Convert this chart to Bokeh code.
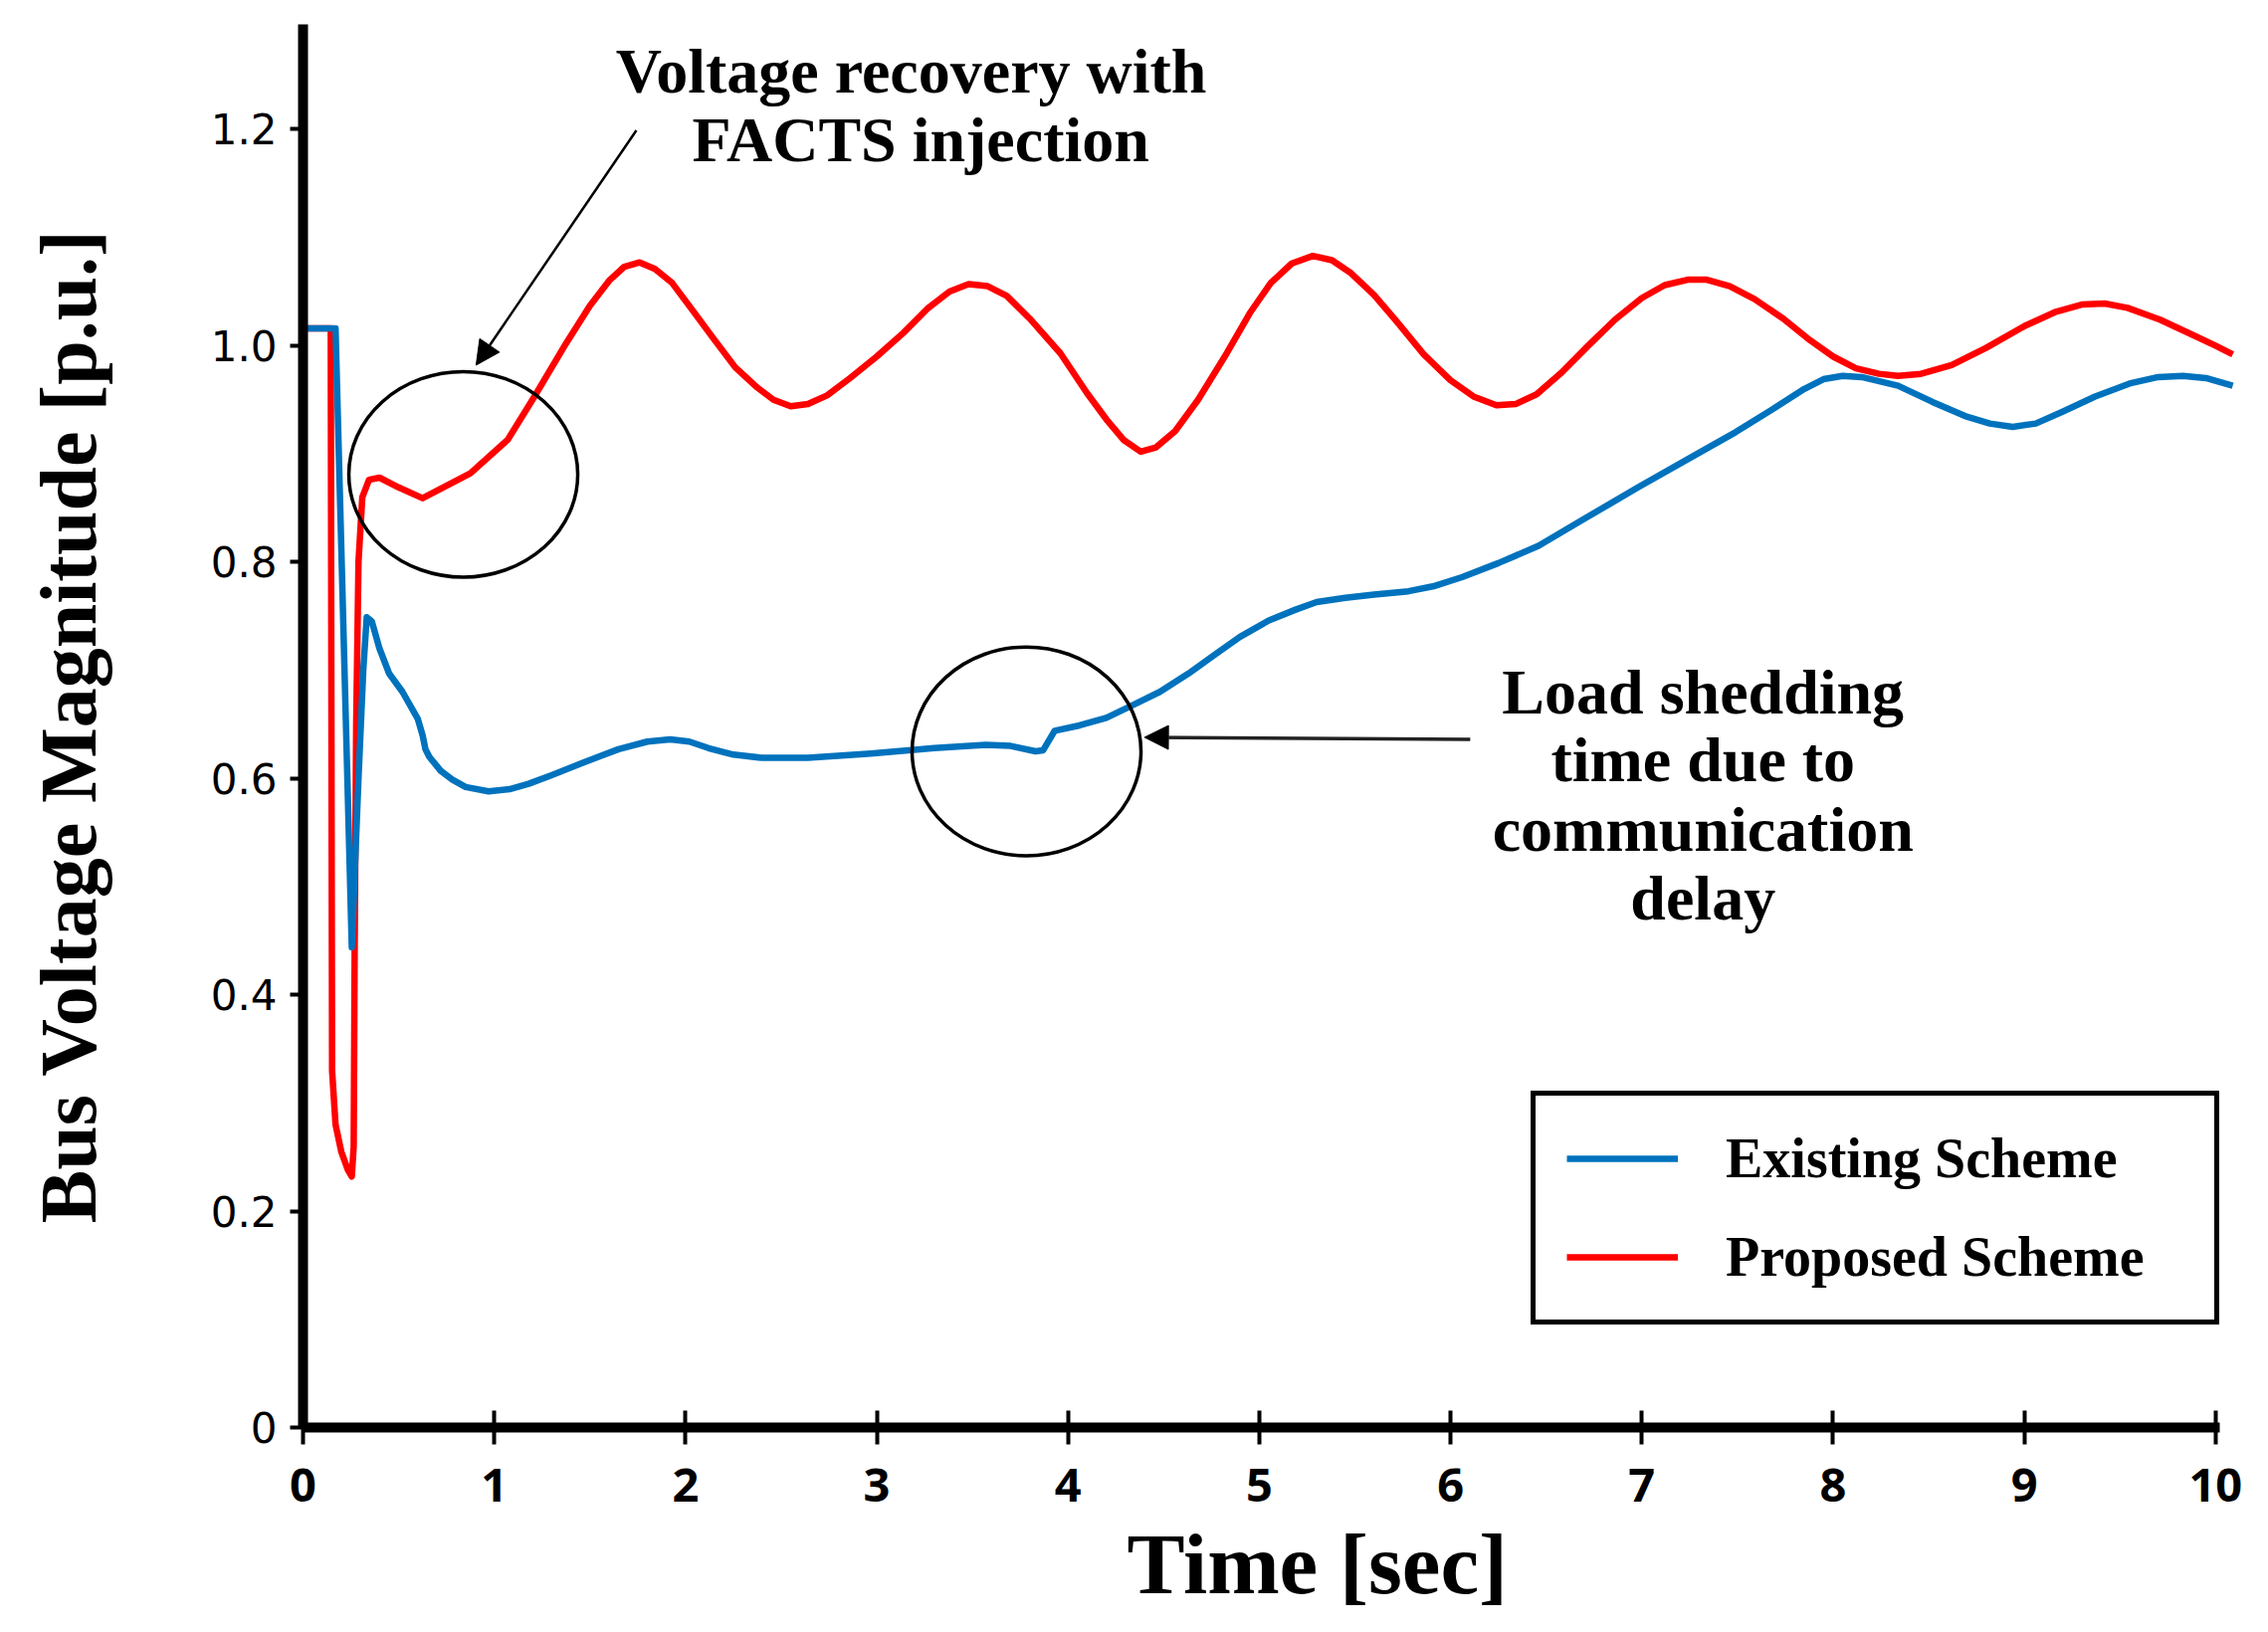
from bokeh.plotting import figure
from bokeh.models import (Range1d, FixedTicker, Label, Arrow, NormalHead, Legend, LegendItem, Title,
                          PrintfTickFormatter)
from bokeh.embed import file_html
from bokeh.resources import INLINE

# ---------------- data ----------------
t_existing = [0.0, 0.17, 0.255, 0.29, 0.315, 0.333, 0.36, 0.40, 0.45, 0.52, 0.60, 0.625, 0.64, 0.66,
              0.72, 0.78, 0.85, 0.97, 1.08, 1.18, 1.30, 1.47, 1.65, 1.80, 1.92, 2.02, 2.12, 2.25,
              2.40, 2.64, 2.97, 3.30, 3.57, 3.70, 3.83, 3.87, 3.93, 4.06, 4.20, 4.33, 4.48, 4.63,
              4.78, 4.90, 5.05, 5.19, 5.30, 5.45, 5.60, 5.78, 5.92, 6.06, 6.25, 6.46, 6.70, 6.98,
              7.25, 7.49, 7.70, 7.85, 7.95, 8.05, 8.15, 8.34, 8.52, 8.69, 8.82, 8.94, 9.06, 9.20,
              9.37, 9.55, 9.70, 9.83, 9.95, 10.09]
v_existing = [1.016, 1.016, 0.444, 0.60, 0.70, 0.749, 0.745, 0.720, 0.697, 0.680, 0.655, 0.640, 0.627, 0.620,
              0.607, 0.599, 0.592, 0.588, 0.590, 0.595, 0.603, 0.615, 0.627, 0.634, 0.636, 0.634, 0.628, 0.622,
              0.619, 0.619, 0.623, 0.628, 0.631, 0.630, 0.625, 0.626, 0.644, 0.649, 0.656, 0.667, 0.680, 0.697,
              0.716, 0.731, 0.746, 0.756, 0.763, 0.767, 0.770, 0.773, 0.778, 0.786, 0.799, 0.815, 0.840, 0.869,
              0.896, 0.920, 0.943, 0.960, 0.969, 0.972, 0.971, 0.963, 0.948, 0.935, 0.928, 0.925, 0.928, 0.939,
              0.953, 0.965, 0.971, 0.972, 0.970, 0.963]

t_proposed = [0.0, 0.145, 0.148, 0.152, 0.17, 0.20, 0.235, 0.255, 0.265, 0.27, 0.278, 0.29, 0.31, 0.345,
              0.40, 0.50, 0.625, 0.70, 0.875, 1.07, 1.21, 1.375, 1.50, 1.60, 1.68, 1.76, 1.84, 1.93,
              2.04, 2.14, 2.26, 2.37, 2.46, 2.55, 2.64, 2.74, 2.86, 3.00, 3.14, 3.27, 3.38, 3.48,
              3.58, 3.68, 3.80, 3.96, 4.10, 4.20, 4.29, 4.38, 4.46, 4.56, 4.68, 4.83, 4.95, 5.06,
              5.17, 5.28, 5.38, 5.48, 5.60, 5.72, 5.86, 6.00, 6.12, 6.24, 6.34, 6.45, 6.58, 6.72,
              6.86, 7.00, 7.12, 7.24, 7.34, 7.46, 7.59, 7.74, 7.88, 8.00, 8.12, 8.24, 8.34, 8.46,
              8.62, 8.80, 9.00, 9.16, 9.30, 9.42, 9.54, 9.71, 9.88, 10.00, 10.09]
v_proposed = [1.016, 1.016, 0.70, 0.33, 0.28, 0.255, 0.238, 0.232, 0.26, 0.44, 0.65, 0.80, 0.86, 0.876,
              0.878, 0.869, 0.859, 0.866, 0.882, 0.913, 0.953, 1.002, 1.037, 1.060, 1.073, 1.077, 1.071, 1.058,
              1.032, 1.008, 0.980, 0.962, 0.950, 0.944, 0.946, 0.954, 0.970, 0.990, 1.012, 1.035, 1.050, 1.057,
              1.055, 1.046, 1.025, 0.993, 0.956, 0.932, 0.913, 0.902, 0.906, 0.921, 0.950, 0.993, 1.030, 1.058,
              1.076, 1.083, 1.079, 1.067, 1.047, 1.022, 0.992, 0.968, 0.953, 0.945, 0.946, 0.955, 0.975, 1.000,
              1.024, 1.044, 1.056, 1.061, 1.061, 1.055, 1.043, 1.025, 1.005, 0.990, 0.979, 0.974, 0.972, 0.974,
              0.982, 0.998, 1.018, 1.031, 1.038, 1.039, 1.035, 1.024, 1.010, 1.000, 0.992]

x_ticks = [0, 1, 2, 3, 4, 5, 6, 7, 8, 9, 10]
y_ticks = [0, 0.2, 0.4, 0.6, 0.8, 1.0, 1.2]

series_names = ["Existing Scheme", "Proposed Scheme"]
series_colors = ["#0072BD", "#FF0000"]

x_title = "Time [sec]"
y_title = "Bus Voltage Magnitude [p.u.]"
note_facts = ["Voltage recovery with", "FACTS injection"]
note_shed = ["Load shedding", "time due to", "communication", "delay"]

SERIF = "Liberation Serif"

# ---------------- figure ----------------
p = figure(width=2263, height=1636,
           x_range=Range1d(0, 10.1), y_range=Range1d(0, 1.297),
           output_backend="svg", toolbar_location=None,
           min_border_left=304, min_border_right=18, min_border_top=24, min_border_bottom=202)
p.grid.visible = False
p.outline_line_color = None
p.background_fill_color = "white"
p.border_fill_color = "white"

red = p.line(t_proposed, v_proposed, line_color=series_colors[1], line_width=6.5, line_join="round")
blue = p.line(t_existing, v_existing, line_color=series_colors[0], line_width=6.5, line_join="round")

p.xaxis.bounds = (0, 10.02)
p.xaxis.ticker = FixedTicker(ticks=x_ticks)
p.yaxis.ticker = FixedTicker(ticks=y_ticks)
p.yaxis.formatter = PrintfTickFormatter(format="%.1f")
p.yaxis.major_label_overrides = {0: "0"}

for ax in (p.xaxis, p.yaxis):
    ax.axis_line_width = 10
    ax.axis_line_color = "black"
    ax.major_tick_line_width = 4
    ax.major_tick_line_color = "black"
    ax.minor_tick_line_color = None
    ax.major_label_text_color = "black"

p.xaxis.major_tick_in = 17
p.xaxis.major_tick_out = 17
p.xaxis.major_label_standoff = 24
p.xaxis.major_label_text_font = "Noto Sans"
p.xaxis.major_label_text_font_style = "bold"
p.xaxis.major_label_text_font_size = "47px"

p.yaxis.major_tick_in = 0
p.yaxis.major_tick_out = 13
p.yaxis.major_label_standoff = 13
p.yaxis.major_label_text_font = "DejaVu Sans"
p.yaxis.major_label_text_font_size = "42px"

# axis titles
p.yaxis.axis_label = y_title
p.yaxis.axis_label_text_font = SERIF
p.yaxis.axis_label_text_font_style = "bold"
p.yaxis.axis_label_text_font_size = "80px"
p.yaxis.axis_label_text_color = "black"
p.yaxis.axis_label_standoff = 96

p.add_layout(Title(text=x_title, align="left", offset=828, standoff=19,
                   text_font=SERIF, text_font_style="bold", text_font_size="87px",
                   text_color="black"), "below")

# annotations
for txt, xx, yy in zip(note_facts, [3.18, 3.23], [1.254, 1.190]):
    p.add_layout(Label(x=xx, y=yy, text=txt, text_font=SERIF, text_font_style="bold",
                       text_font_size="64px", text_align="center", text_baseline="alphabetic",
                       text_color="black"))
for txt, yy in zip(note_shed, [0.680, 0.617, 0.553, 0.489]):
    p.add_layout(Label(x=7.32, y=yy, text=txt, text_font=SERIF, text_font_style="bold",
                       text_font_size="64px", text_align="center", text_baseline="alphabetic",
                       text_color="black"))

p.ellipse(x=[0.838, 3.783], y=[0.881, 0.625], width=[1.197, 1.197], height=[0.190, 0.193],
          fill_color=None, line_color="black", line_width=3.5)

p.add_layout(Arrow(end=NormalHead(size=24, fill_color="black", line_color="black", line_width=1),
                   x_start=1.743, y_start=1.199, x_end=0.905, y_end=0.982,
                   line_color="black", line_width=2.5))
p.add_layout(Arrow(end=NormalHead(size=24, fill_color="black", line_color="black", line_width=1),
                   x_start=6.103, y_start=0.636, x_end=4.40, y_end=0.638,
                   line_color="#222222", line_width=3.5))

# legend
legend = Legend(items=[LegendItem(label=series_names[0], renderers=[blue]),
                       LegendItem(label=series_names[1], renderers=[red])],
                location=(1234, 103))
legend.padding = 31
legend.spacing = 35
legend.margin = 0
legend.glyph_width = 112
legend.glyph_height = 60
legend.label_height = 60
legend.label_width = 460
legend.label_standoff = 48
legend.label_text_font = SERIF
legend.label_text_font_style = "bold"
legend.label_text_font_size = "56px"
legend.label_text_color = "black"
legend.border_line_color = "black"
legend.border_line_alpha = 1.0
legend.border_line_width = 5
legend.background_fill_color = "white"
legend.background_fill_alpha = 1.0
p.add_layout(legend)

open("out.html", "w").write(file_html(p, INLINE))
